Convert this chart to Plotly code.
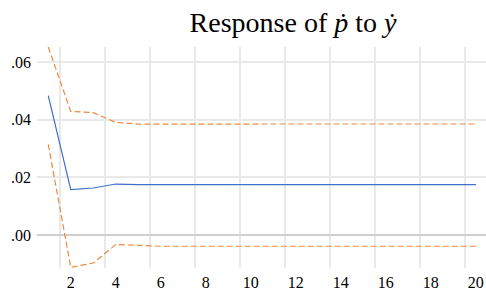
import plotly.graph_objects as go

periods = list(range(1, 21))
response = [0.0483, 0.01573, 0.0163, 0.01768, 0.0175] + [0.01747] * 15
upper = [0.0652, 0.04288, 0.04243, 0.03906, 0.03848] + [0.0385] * 15
lower = [0.03144, -0.0112, -0.0097, -0.00333, -0.00357] + [-0.0039] * 15

x_tick_vals = list(range(2, 21, 2))
x_tick_labels = [str(v) for v in x_tick_vals]
y_tick_vals = [0.0, 0.02, 0.04, 0.06]
y_tick_labels = [".00", ".02", ".04", ".06"]

serif = "Liberation Serif"
tick_serif = "Times New Roman, Liberation Serif, serif"
orange = "#EE8A3E"
blue = "#3F6FC6"

W, H = 486, 297

fig = go.Figure()
fig.add_trace(go.Scatter(x=periods, y=upper, mode="lines",
                         line=dict(color=orange, width=1.2, dash="6px,3px"), showlegend=False))
fig.add_trace(go.Scatter(x=periods, y=lower, mode="lines",
                         line=dict(color=orange, width=1.2, dash="6px,3px"), showlegend=False))
fig.add_trace(go.Scatter(x=periods, y=response, mode="lines",
                         line=dict(color=blue, width=1.2), showlegend=False))

fig.update_layout(
    width=W, height=H,
    margin=dict(l=37, r=0, t=47, b=29, autoexpand=False),
    paper_bgcolor="white", plot_bgcolor="white",
    font=dict(family=tick_serif, color="black", size=16),
    title=dict(text="Response of <i>ṗ</i> to <i>ẏ</i>", x=293 / W, xanchor="center",
               xref="container", y=1 - 22 / H, yanchor="middle", yref="container",
               font=dict(family=serif, size=28, color="black")),
    xaxis=dict(range=[0.5, 20.45], tickvals=x_tick_vals, ticktext=x_tick_labels,
               showgrid=False, zeroline=False, showline=False, ticks="",
               tickfont=dict(family=tick_serif, size=16, color="black"),
               minor=dict(tick0=1.5, dtick=2, showgrid=True, gridcolor="#e9e9e9", gridwidth=1.5),
               ticklabelstandoff=3),
    yaxis=dict(range=[-0.01144, 0.0652], tickvals=y_tick_vals, ticktext=y_tick_labels,
               showgrid=True, gridcolor="#e9e9e9", gridwidth=1.5,
               zeroline=True, zerolinecolor="#cfcfcf", zerolinewidth=2,
               showline=False, ticks="",
               tickfont=dict(family=tick_serif, size=16, color="black"),
               ticklabelstandoff=5),
)

fig.write_html(
    "out.html",
    config={"displayModeBar": False},
    post_script="document.body.style.margin='0';document.body.style.overflow='hidden';",
)
